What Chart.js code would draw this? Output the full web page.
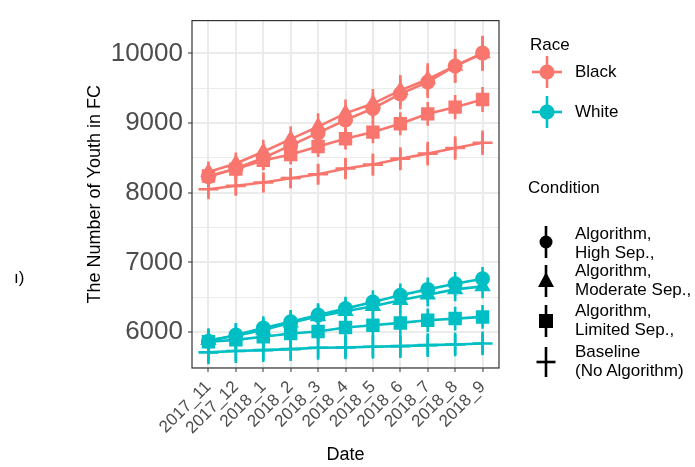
<!DOCTYPE html>
<html>
<head>
<meta charset="utf-8">
<script src="https://cdn.jsdelivr.net/npm/chart.js@4.4.1/dist/chart.umd.min.js"></script>
<style>
  html, body { margin: 0; padding: 0; background: #fff; }
  #wrap { position: relative; width: 695px; height: 467px; overflow: hidden; font-family: "Liberation Sans", Arial, sans-serif; }
  #c { position: absolute; left: 0; top: 0; }
  .t { position: absolute; font-size: 17px; line-height: 19px; color: #000; white-space: nowrap; }
  svg.k { position: absolute; left: 0; top: 0; }
</style>
</head>
<body>
<div id="wrap">
  <canvas id="c" width="695" height="467"></canvas>
  <div class="t" style="left:14px; top:268px;">ı)</div>
  <svg class="k" width="695" height="467" id="keys"></svg>
  <div class="t" style="left:530px; top:35px;">Race</div>
  <div class="t" style="left:575px; top:62px;">Black</div>
  <div class="t" style="left:575px; top:102px;">White</div>
  <div class="t" style="left:528px; top:178px;">Condition</div>
  <div class="t" style="left:575px; top:224px;">Algorithm,<br>High Sep.,</div>
  <div class="t" style="left:575px; top:261px;">Algorithm,<br>Moderate Sep.,</div>
  <div class="t" style="left:575px; top:301px;">Algorithm,<br>Limited Sep.,</div>
  <div class="t" style="left:575px; top:342px;">Baseline<br>(No Algorithm)</div>
</div>
<script>
// ---- data ----
const dates = ['2017_11','2017_12','2018_1','2018_2','2018_3','2018_4','2018_5','2018_6','2018_7','2018_8','2018_9'];

const blackHigh      = [8230, 8350, 8500, 8680, 8860, 9045, 9210, 9420, 9590, 9820, 10005];
const blackModerate  = [8300, 8420, 8590, 8770, 8950, 9140, 9280, 9470, 9630, 9820, 10000];
const blackLimited   = [8240, 8340, 8465, 8550, 8665, 8776, 8871, 8990, 9133, 9229, 9338];
const blackBaseline  = [8052, 8100, 8148, 8210, 8267, 8348, 8405, 8490, 8562, 8643, 8719];

const whiteHigh      = [5870, 5960, 6060, 6150, 6245, 6338, 6433, 6529, 6614, 6695, 6767];
const whiteModerate  = [5885, 5950, 6030, 6135, 6225, 6300, 6371, 6457, 6538, 6614, 6657];
const whiteLimited   = [5862, 5890, 5935, 5981, 6010, 6067, 6100, 6133, 6171, 6195, 6219];
const whiteBaseline  = [5710, 5729, 5743, 5757, 5776, 5781, 5790, 5800, 5814, 5824, 5838];

// error bar half-widths
const blackHighErr     = [150, 160, 170, 180, 190, 200, 210, 220, 230, 240, 250];
const blackModerateErr = [150, 160, 170, 180, 190, 200, 210, 220, 230, 240, 250];
const blackLimitedErr  = [130, 135, 140, 145, 150, 155, 160, 165, 170, 175, 180];
const blackBaselineErr = [120, 130, 140, 145, 150, 155, 160, 165, 170, 170, 175];
const whiteErr         = [170, 170, 170, 170, 170, 170, 170, 170, 170, 170, 170];

const yMajorTicks = [6000, 7000, 8000, 9000, 10000];
const yMinorTicks = [5500, 6500, 7500, 8500, 9500];
const yMin = 5486, yMax = 10471;

const BLACK_COL = '#F8766D';
const WHITE_COL = '#00BFC4';
const LW = 2.6;

function mk(label, values, errs, color, style, radius) {
  return {
    label,
    data: values.map((v, i) => ({ x: i, y: v })),
    errors: errs,
    borderColor: color,
    backgroundColor: color,
    borderWidth: LW,
    pointStyle: style,
    pointRadius: radius,
    pointHoverRadius: radius,
    pointBackgroundColor: color,
    pointBorderColor: color,
    pointBorderWidth: style === 'cross' ? LW : 0,
    tension: 0,
    fill: false
  };
}

const datasets = [
  mk('Black Baseline', blackBaseline, blackBaselineErr, BLACK_COL, 'cross', 10),
  mk('Black Limited', blackLimited, blackLimitedErr, BLACK_COL, 'rect', 9.5),
  mk('Black Moderate', blackModerate, blackModerateErr, BLACK_COL, 'triangle', 9.5),
  mk('Black High', blackHigh, blackHighErr, BLACK_COL, 'circle', 7.5),
  mk('White Baseline', whiteBaseline, whiteErr, WHITE_COL, 'cross', 10),
  mk('White Limited', whiteLimited, whiteErr, WHITE_COL, 'rect', 9.5),
  mk('White Moderate', whiteModerate, whiteErr, WHITE_COL, 'triangle', 9.5),
  mk('White High', whiteHigh, whiteErr, WHITE_COL, 'circle', 7.5)
];

const errorBars = {
  id: 'errorBars',
  beforeDatasetsDraw(chart) {
    const ctx = chart.ctx, xs = chart.scales.x, ys = chart.scales.y;
    ctx.save();
    ctx.beginPath();
    ctx.rect(chart.chartArea.left, chart.chartArea.top, chart.chartArea.right - chart.chartArea.left, chart.chartArea.bottom - chart.chartArea.top);
    ctx.clip();
    chart.data.datasets.forEach(ds => {
      ctx.strokeStyle = ds.borderColor;
      ctx.lineWidth = LW;
      ds.data.forEach((p, i) => {
        const e = ds.errors[i];
        const px = xs.getPixelForValue(p.x);
        ctx.beginPath();
        ctx.moveTo(px, ys.getPixelForValue(p.y - e));
        ctx.lineTo(px, ys.getPixelForValue(p.y + e));
        ctx.stroke();
      });
    });
    ctx.restore();
  }
};

const panelBorder = {
  id: 'panelBorder',
  afterDraw(chart) {
    const a = chart.chartArea, ctx = chart.ctx;
    ctx.save();
    ctx.strokeStyle = '#333333';
    ctx.lineWidth = 1.2;
    ctx.strokeRect(a.left, a.top, a.right - a.left, a.bottom - a.top);
    ctx.restore();
  }
};

new Chart(document.getElementById('c'), {
  type: 'line',
  data: { datasets },
  plugins: [errorBars, panelBorder],
  options: {
    responsive: false,
    animation: false,
    devicePixelRatio: 1,
    layout: { padding: { left: 80, right: 196, top: 18, bottom: 0 } },
    plugins: { legend: { display: false }, tooltip: { enabled: false } },
    elements: { line: { borderCapStyle: 'butt' } },
    scales: {
      x: {
        type: 'linear',
        min: -0.6,
        max: 10.6,
        afterBuildTicks: s => { s.ticks = dates.map((d, i) => ({ value: i })); },
        afterFit: s => { s.height = 99; },
        ticks: {
          autoSkip: false,
          minRotation: 45,
          maxRotation: 45,
          padding: 5,
          color: '#4D4D4D',
          font: { family: '"Liberation Sans", Arial, sans-serif', size: 17 },
          callback: v => dates[v]
        },
        grid: { color: '#EBEBEB', lineWidth: 2, drawTicks: true, tickLength: 4, tickColor: '#333333', tickWidth: 1 },
        border: { display: false },
        title: {
          display: true, text: 'Date', color: '#000',
          font: { family: '"Liberation Sans", Arial, sans-serif', size: 18 },
          padding: { top: 0, bottom: 1 }
        }
      },
      y: {
        type: 'linear',
        min: yMin,
        max: yMax,
        afterBuildTicks: s => { s.ticks = yMinorTicks.concat(yMajorTicks).sort((a, b) => a - b).map(v => ({ value: v })); },
        afterFit: s => { s.width = 112; },
        ticks: {
          autoSkip: false,
          padding: 5,
          color: '#4D4D4D',
          font: { family: '"Liberation Sans", Arial, sans-serif', size: 26 },
          callback: v => (yMajorTicks.includes(v) ? String(v) : '')
        },
        grid: {
          color: '#EBEBEB',
          lineWidth: c => (c.tick && yMajorTicks.includes(c.tick.value) ? 2 : 1),
          drawTicks: true,
          tickLength: 4,
          tickColor: c => (c.tick && yMajorTicks.includes(c.tick.value) ? '#333333' : 'rgba(0,0,0,0)'),
          tickWidth: 1
        },
        border: { display: false },
        title: {
          display: true, text: 'The Number of Youth in FC', color: '#000',
          font: { family: '"Liberation Sans", Arial, sans-serif', size: 18 },
          padding: { top: 4, bottom: 0 }
        }
      }
    }
  }
});

// legend keys (svg)
(function () {
  const svg = document.getElementById('keys');
  const ns = 'http://www.w3.org/2000/svg';
  function el(tag, attrs) {
    const e = document.createElementNS(ns, tag);
    for (const k in attrs) e.setAttribute(k, attrs[k]);
    svg.appendChild(e);
  }
  [[72, BLACK_COL], [112, WHITE_COL]].forEach(([y, c]) => {
    el('line', { x1: 532, y1: y, x2: 562, y2: y, stroke: c, 'stroke-width': LW });
    el('line', { x1: 547, y1: y - 16, x2: 547, y2: y + 16, stroke: c, 'stroke-width': LW });
    el('circle', { cx: 547, cy: y, r: 7.5, fill: c });
  });
  const kx = 546;
  el('line', { x1: kx, y1: 226, x2: kx, y2: 258, stroke: '#000', 'stroke-width': LW });
  el('circle', { cx: kx, cy: 242, r: 6.5, fill: '#000' });
  el('line', { x1: kx, y1: 265, x2: kx, y2: 297, stroke: '#000', 'stroke-width': LW });
  el('polygon', { points: `${kx},272 ${kx + 8},287 ${kx - 8},287`, fill: '#000' });
  el('line', { x1: kx, y1: 305, x2: kx, y2: 337, stroke: '#000', 'stroke-width': LW });
  el('rect', { x: kx - 7, y: 314, width: 14, height: 14, fill: '#000' });
  el('line', { x1: kx, y1: 347, x2: kx, y2: 377, stroke: '#000', 'stroke-width': LW });
  el('line', { x1: kx - 9.5, y1: 362, x2: kx + 9.5, y2: 362, stroke: '#000', 'stroke-width': LW });
})();
</script>
</body>
</html>
